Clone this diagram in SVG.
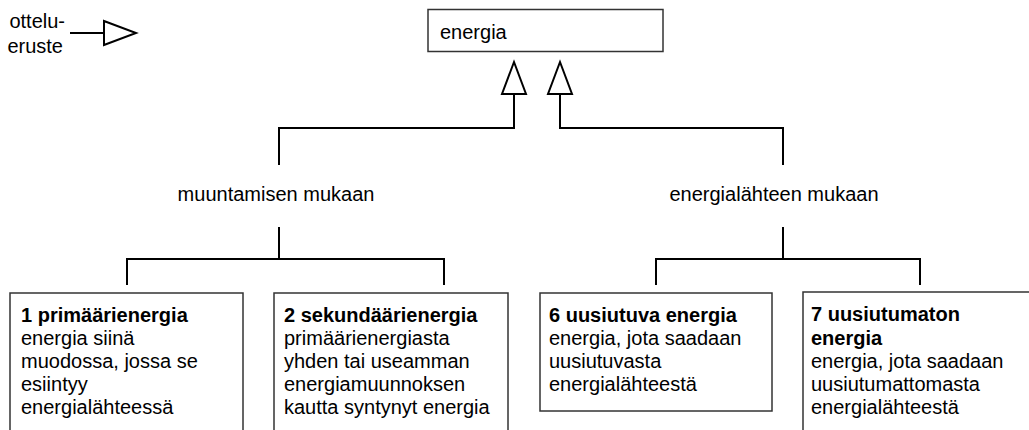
<svg xmlns="http://www.w3.org/2000/svg" width="1029" height="430" viewBox="0 0 1029 430">
<style>
text{font-family:"Liberation Sans",Arial,sans-serif;font-size:20px;fill:#000}
.b{font-weight:bold}
.box{fill:#fff;stroke:#333;stroke-width:1.5}
.ln{fill:none;stroke:#000;stroke-width:2}
.tri{fill:#fff;stroke:#000;stroke-width:2;stroke-linejoin:miter}
</style>
<rect width="1029" height="430" fill="#fff"/>
<g id="legend">
<text x="65" y="28" text-anchor="end">ottelu-</text>
<text x="63" y="53" text-anchor="end">eruste</text>
<line class="ln" x1="70" y1="33" x2="104" y2="33"/>
<polygon class="tri" points="104,21 136,33 104,45"/>
</g>
<g id="connectors">
<polyline class="ln" points="279,165 279,128 514,128 514,94"/>
<polygon class="tri" points="514,62 502,94 526,94"/>
<polyline class="ln" points="783,165 783,128 560,128 560,94"/>
<polygon class="tri" points="560,62 548,94 572,94"/>
<line class="ln" x1="279" y1="227" x2="279" y2="259"/>
<polyline class="ln" points="127,285 127,259 444,259 444,285"/>
<line class="ln" x1="783" y1="227" x2="783" y2="259"/>
<polyline class="ln" points="656,285 656,259 920,259 920,285"/>
</g>
<g id="energia">
<rect class="box" x="428" y="9.5" width="235" height="42"/>
<text x="440" y="39">energia</text>
</g>
<g id="muuntamisen">
<text x="276" y="201" text-anchor="middle">muuntamisen mukaan</text>
</g>
<g id="energialahteen">
<text x="774" y="201" text-anchor="middle">energialähteen mukaan</text>
</g>
<g id="primaari">
<rect class="box" x="10" y="293" width="233" height="160"/>
<text class="b" x="21" y="322">1 primäärienergia</text>
<text x="21" y="345">energia siinä</text>
<text x="21" y="368">muodossa, jossa se</text>
<text x="21" y="391">esiintyy</text>
<text x="21" y="414">energialähteessä</text>
</g>
<g id="sekundaari">
<rect class="box" x="274" y="293" width="234" height="160"/>
<text class="b" x="284" y="322">2 sekundäärienergia</text>
<text x="284" y="345">primäärienergiasta</text>
<text x="284" y="368">yhden tai useamman</text>
<text x="284" y="391">energiamuunnoksen</text>
<text x="284" y="414">kautta syntynyt energia</text>
</g>
<g id="uusiutuva">
<rect class="box" x="540" y="293" width="232" height="118"/>
<text class="b" x="549" y="322">6 uusiutuva energia</text>
<text x="549" y="345">energia, jota saadaan</text>
<text x="549" y="368">uusiutuvasta</text>
<text x="549" y="391">energialähteestä</text>
</g>
<g id="uusiutumaton">
<rect class="box" x="803" y="292" width="240" height="160"/>
<text class="b" x="811" y="321">7 uusiutumaton</text>
<text class="b" x="811" y="345">energia</text>
<text x="811" y="368">energia, jota saadaan</text>
<text x="811" y="391">uusiutumattomasta</text>
<text x="811" y="414">energialähteestä</text>
</g>
</svg>
